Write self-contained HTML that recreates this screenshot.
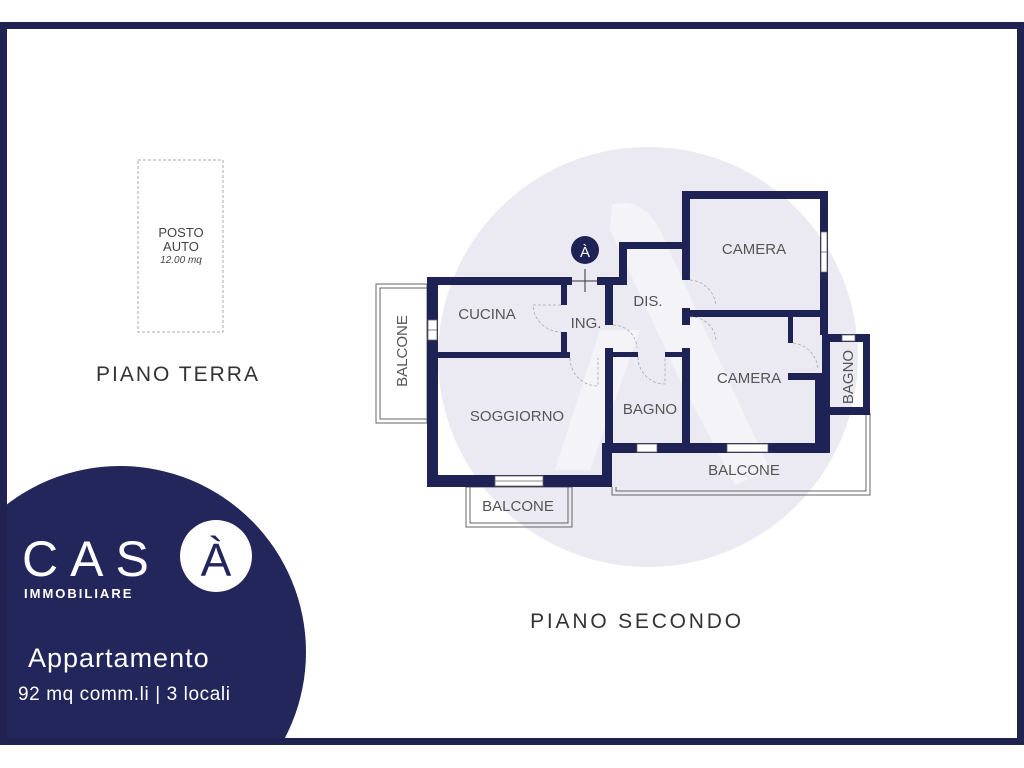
<!DOCTYPE html>
<html><head><meta charset="utf-8"><style>
html,body{margin:0;padding:0;background:#fff;width:1024px;height:768px;overflow:hidden;}
body{position:relative;font-family:"Liberation Sans",sans-serif;}
svg{display:block;}
</style></head><body>
<svg width="1024" height="768" viewBox="0 0 1024 768" xmlns="http://www.w3.org/2000/svg" style="position:absolute;left:0;top:0">
<defs><clipPath id="fr"><rect x="0" y="22" width="1024" height="723"/></clipPath></defs>
<rect width="1024" height="768" fill="#fff"/>
<circle cx="648" cy="357" r="210" fill="#ebeaf2"/>
<path d="M612 205 Q640 195 660 230 L705 330 L770 470 L735 485 L680 380 L610 230 Z" fill="#f4f4f8"/>
<path d="M600 330 L640 330 L590 470 L555 470 Z" fill="#f4f4f8"/>
<g clip-path="url(#fr)">
<circle cx="120" cy="652" r="186" fill="#23265a"/>
</g>
<rect x="3.5" y="25.5" width="1017" height="716" fill="none" stroke="#202252" stroke-width="7"/>

<rect x="138" y="160" width="85" height="172" fill="none" stroke="#aaa" stroke-dasharray="3,2" stroke-width="1"/>
<text x="181" y="237" font-size="13" fill="#444" text-anchor="middle">POSTO</text>
<text x="181" y="251" font-size="13" fill="#444" text-anchor="middle">AUTO</text>
<text x="181" y="263" font-size="10" fill="#444" text-anchor="middle" font-style="italic">12.00 mq</text>
<text x="178" y="381" font-size="21" fill="#333" text-anchor="middle" letter-spacing="2">PIANO TERRA</text>
<text x="637" y="628" font-size="21" fill="#333" text-anchor="middle" letter-spacing="2.8">PIANO SECONDO</text>

<g fill="none" stroke="#666" stroke-width="1">
<rect x="376" y="284" width="51" height="139"/>
<rect x="380" y="288" width="47" height="131"/>
<rect x="466" y="487" width="106" height="40"/>
<rect x="470" y="487" width="98" height="36"/>
<path d="M612 487 L612 495 L870 495 L870 413"/>
<path d="M616 487 L616 491 L866 491 L866 413"/>
</g>

<g fill="#1f2254">
<rect x="427" y="277" width="11" height="210"/>
<rect x="427" y="277" width="145" height="8"/>
<rect x="597" y="277" width="30" height="8"/>
<rect x="619" y="242" width="8" height="43"/>
<rect x="619" y="242" width="70" height="7"/>
<rect x="682" y="191" width="146" height="8"/>
<rect x="682" y="191" width="8" height="89"/>
<rect x="682" y="308" width="8" height="17"/>
<rect x="820" y="191" width="8" height="144"/>
<rect x="682" y="310" width="146" height="7"/>
<rect x="822" y="334" width="48" height="8"/>
<rect x="822" y="334" width="8" height="81"/>
<rect x="863" y="334" width="7" height="81"/>
<rect x="822" y="407" width="48" height="8"/>
<rect x="788" y="313" width="5" height="30"/>
<rect x="788" y="373" width="42" height="7"/>
<rect x="815" y="373" width="15" height="80"/>
<rect x="603" y="443" width="227" height="10"/>
<rect x="605" y="279" width="8" height="46"/>
<rect x="605" y="348" width="8" height="100"/>
<rect x="602" y="443" width="10" height="44"/>
<rect x="427" y="475" width="185" height="12"/>
<rect x="561" y="279" width="6" height="26"/>
<rect x="561" y="332" width="6" height="26"/>
<rect x="427" y="352" width="143" height="6"/>
<rect x="605" y="352" width="33" height="5"/>
<rect x="665" y="352" width="25" height="5"/>
<rect x="682" y="348" width="8" height="98"/>
</g>
<g fill="#fff" stroke="#666" stroke-width="0.8">
<rect x="428" y="320" width="9" height="20"/>
<rect x="495" y="476" width="48" height="10"/>
<rect x="637" y="444" width="20" height="8"/>
<rect x="727" y="444" width="41" height="8"/>
<rect x="821" y="232" width="6" height="40"/>
<rect x="842" y="335" width="13" height="6"/>
</g>
<g stroke="#666" stroke-width="0.8"><line x1="428" y1="330" x2="437" y2="330"/><line x1="495" y1="481" x2="543" y2="481"/><line x1="821" y1="252" x2="827" y2="252"/></g>
<g fill="none" stroke="#aaa" stroke-width="0.8" stroke-dasharray="3,2">
<path d="M561 305 L533 305 A28 28 0 0 0 561 332"/>
<path d="M570 358 A28 28 0 0 0 598 386 L598 358"/>
<path d="M613 325 A24 24 0 0 1 637 348"/>
<path d="M638 357 A27 27 0 0 0 665 384 L665 357"/>
<path d="M690 280 A28 28 0 0 1 716 306"/>
<path d="M690 317 A25 25 0 0 1 716 340"/>
<path d="M793 343 A28 28 0 0 1 818 370"/>
</g>
<circle cx="585" cy="250" r="14" fill="#1f2254"/>
<text x="585" y="257" font-size="15" fill="#fff" text-anchor="middle">À</text>
<g stroke="#333" stroke-width="1"><line x1="585" y1="269" x2="585" y2="292"/><line x1="572" y1="281" x2="598" y2="281"/></g>

<g font-size="15" fill="#555" text-anchor="middle">
<text x="487" y="319">CUCINA</text>
<text x="586" y="328">ING.</text>
<text x="648" y="306">DIS.</text>
<text x="754" y="254">CAMERA</text>
<text x="749" y="383">CAMERA</text>
<text x="517" y="421">SOGGIORNO</text>
<text x="650" y="414">BAGNO</text>
<text x="744" y="475">BALCONE</text>
<text x="518" y="511">BALCONE</text>
<text transform="translate(407,351) rotate(-90)">BALCONE</text>
<text transform="translate(853,377) rotate(-90)">BAGNO</text>
</g>

<text x="22" y="576" font-size="50" fill="#fff" letter-spacing="12">CAS</text>
<circle cx="216" cy="556" r="36" fill="#fff"/>
<text x="216" y="576" font-size="46" fill="#23265a" text-anchor="middle">À</text>
<text x="24" y="598" font-size="13" fill="#fff" font-weight="bold" letter-spacing="2">IMMOBILIARE</text>
<text x="28" y="667" font-size="27" fill="#fff" letter-spacing="1">Appartamento</text>
<text x="18" y="700" font-size="19" fill="#fff" letter-spacing="0.6">92 mq comm.li | 3 locali</text>
</svg>
</body></html>
